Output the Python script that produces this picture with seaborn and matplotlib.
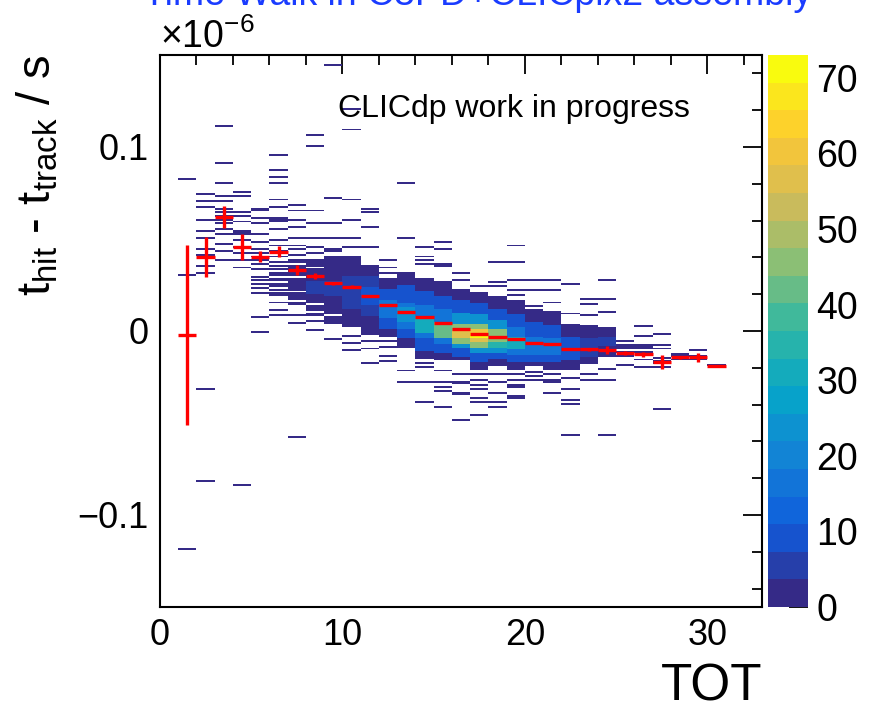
import numpy as np
import pandas as pd
import matplotlib
matplotlib.use("Agg")
import matplotlib.pyplot as plt
import seaborn as sns
from matplotlib.colors import LinearSegmentedColormap, ListedColormap
from matplotlib.ticker import MultipleLocator

# Datos: TOT por bin (borde inferior), dt en ns
tot_bins = list(range(1, 31))

# entradas sueltas (1 cuenta) por columna TOT
sparse_dt = {
    1: [82, 30, -119],
    2: [74, 70, 67, 60, 54, 50, 44, 41, 35, 31, -32, -82],
    3: [111, 91, 80, 73, 70, 66, 64, 62, 60, 58, 55, 52, 47, 43, 38],
    4: [75, 73, 64, 62, 59, 54, 53, 52, 49, 45, 42, 38, 34, -84],
    5: [66, 65, 61, 58, 52, 48, 44, 42, 40, 38, 36, 33, 29, 27, 25, 23, 20, 7, -1],
    6: [95, 87, 83, 80, 71, 67, 61, 60, 59, 55, 49, 46, 43, 40, 37, 35, 33, 31,
        30, 28, 27, 25, 24, 22, 20, 19, 15, 11, 8],
    7: [68, 65, 60, 56, 50, 46, 44, 41, 8, 4, -58],
    8: [106, 100, 65, 58, 50, 45, 42, 5, 0],
    9: [144, 72, 58, 50, -5],
    10: [120, 109, 71, 60, 50, 45, -3, -7, -11],
    11: [66, 64, 56, 45, -6, -10, -18],
    12: [38, 34, 31, -6, -9, -14, -17],
    13: [80, 50, -22, -28],
    14: [45, 40, 38, 36, -18, -20, -28, -39],
    15: [48, 44, 36, 35, -22, -28, -31, -33, -42],
    16: [31, 27, -24, -28, -29, -34, -35, -49],
    17: [24, -24, -27, -30, -32, -37, -39, -46],
    18: [37, 26, 24, -24, -28, -34, -39, -42],
    19: [46, 37, 27, 22, 19, -24, -27, -30, -31, -36, -37],
    20: [27, 22, 13, -23, -25, -27],
    21: [27, 22, 15, -24, -27, -28, -34],
    22: [25, 9, -26, -32, -38, -40, -57],
    23: [17, 14, 8, -24, -27],
    24: [27, 17, 10, -21, -27, -57],
    25: [-6, -8, -9, -10, -12, -14, -19],
    26: [2, -3, -8, -9, -10, -12, -16, -20],
    27: [-2, -8, -10, -15, -17, -18, -20, -43],
    28: [-13, -14, -16],
    29: [-11, -14, -16],
    30: [-19],
}

# nucleo denso: (dt_alto, dt_bajo, cuentas por bin)
core_runs = {
    7: [(38, 37, 1), (35, 30, 2), (28, 22, 2), (20, 17, 1), (15, 14, 1)],
    8: [(38, 35, 1), (33, 27, 2), (26, 20, 4), (19, 15, 2), (13, 11, 1), (9, 8, 1)],
    9: [(44, 43, 1), (40, 37, 1), (36, 32, 2), (31, 27, 3), (26, 19, 5), (18, 14, 3),
        (13, 9, 2), (7, 4, 1)],
    10: [(40, 36, 1), (35, 30, 2), (29, 26, 4), (25, 18, 7), (17, 12, 4), (11, 6, 2),
         (5, 2, 1)],
    11: [(35, 30, 2), (29, 24, 4), (23, 14, 10), (13, 8, 6), (7, 2, 2), (1, -2, 1)],
    12: [(28, 23, 2), (22, 17, 10), (16, 7, 16), (6, 1, 10), (0, -3, 2)],
    13: [(31, 25, 2), (24, 15, 10), (14, 13, 17), (12, 5, 25), (4, 1, 17), (0, -4, 10),
         (-5, -9, 2)],
    14: [(28, 22, 2), (21, 14, 10), (13, 8, 17), (7, -1, 30), (-2, -4, 17),
         (-5, -11, 10), (-12, -15, 2)],
    15: [(26, 19, 2), (18, 12, 10), (11, 5, 17), (4, -4, 42), (-5, -7, 17),
         (-8, -12, 10), (-13, -16, 2)],
    16: [(22, 17, 2), (16, 10, 10), (9, 4, 22), (3, 0, 45), (-1, -4, 58), (-5, -7, 45),
         (-8, -9, 25), (-10, -14, 10), (-15, -16, 2)],
    17: [(20, 15, 2), (14, 9, 10), (8, 4, 25), (3, 1, 45), (0, -1, 62), (-2, -4, 72),
         (-5, -6, 58), (-7, -9, 45), (-10, -12, 25), (-13, -17, 10), (-18, -21, 2)],
    18: [(18, 12, 2), (11, 6, 10), (5, 1, 25), (0, -6, 45), (-7, -9, 35),
         (-10, -12, 25), (-13, -15, 10), (-16, -19, 2)],
    19: [(16, 9, 2), (8, 2, 10), (1, -3, 18), (-4, -10, 30), (-11, -13, 18),
         (-14, -17, 10), (-18, -21, 2)],
    20: [(11, 5, 2), (4, -3, 10), (-4, -13, 18), (-14, -17, 10), (-18, -19, 2)],
    21: [(10, 3, 2), (2, -4, 10), (-5, -13, 15), (-14, -17, 10), (-18, -21, 2)],
    22: [(3, -3, 2), (-4, -16, 9), (-17, -21, 2)],
    23: [(2, -4, 2), (-5, -14, 6), (-15, -18, 2)],
    24: [(1, -3, 2), (-4, -8, 4), (-9, -14, 2)],
}

prof_mean_ns = [-2, 40.2, 62.1, 45.5, 40.4, 43.1, 33.2, 29.9, 25.9, 24.1,
                19.2, 14.1, 10.1, 7.4, 4.2, 1.1, -1.6, -3.3, -4.5, -6.3,
                -7.2, -9.8, -10.0, -10.3, -11.8, -12.7, -16.7, -14.3, -14.3, -18.8]
prof_err_ns = [49, 10.9, 6.1, 7.0, 3.0, 2.9, 2.9, 1.5, 1.0, 0.8,
               0.6, 0.5, 0.4, 0.4, 0.3, 0.3, 0.3, 0.3, 0.3, 0.4,
               0.4, 0.5, 0.6, 2.2, 1.0, 1.5, 3.9, 0.8, 2.3, 0.0]

cbar_ticks = [0, 10, 20, 30, 40, 50, 60, 70]

# Construir tabla de celdas
rows = []
for k in tot_bins:
    for d in sparse_dt.get(k, []):
        rows.append((k + 0.5, (d + 0.5) / 1000.0, 1))
    for hi, lo, n in core_runs.get(k, []):
        for d in range(lo, hi + 1):
            rows.append((k + 0.5, (d + 0.5) / 1000.0, n))
df = pd.DataFrame(rows, columns=["tot", "dt", "n"])

# Paleta tipo ROOT kBird con 20 niveles
bird = LinearSegmentedColormap.from_list("bird", [
    (0.2082, 0.1664, 0.5293), (0.0592, 0.3599, 0.8684), (0.0780, 0.5041, 0.8385),
    (0.0232, 0.6419, 0.7914), (0.1802, 0.7178, 0.6425), (0.5301, 0.7492, 0.4662),
    (0.8186, 0.7328, 0.3499), (0.9956, 0.7862, 0.1968), (0.9764, 0.9832, 0.0539)])
cmap20 = ListedColormap(bird(np.linspace(0, 1, 20)))

sns.set_style("white")
plt.rcParams["font.family"] = ["Liberation Sans", "DejaVu Sans"]
plt.rcParams["mathtext.fontset"] = "custom"
plt.rcParams["mathtext.rm"] = "Liberation Sans"
plt.rcParams["mathtext.it"] = "Liberation Sans"
plt.rcParams["mathtext.default"] = "regular"
for key in ["text.color", "axes.labelcolor", "xtick.color", "ytick.color"]:
    plt.rcParams[key] = "black"

fig = plt.figure(figsize=(8.71, 7.11), dpi=100)
ax = fig.add_axes([160 / 871, 1 - 607 / 711, 602 / 871, 552 / 711])
cax = fig.add_axes([768 / 871, 1 - 607 / 711, 40 / 871, 552 / 711])

x_edges = np.arange(0, 34)
y_edges = np.arange(-150, 151) / 1000.0
sns.histplot(data=df, x="tot", y="dt", weights="n", bins=[x_edges, y_edges],
             cmap=cmap20, vmin=0, vmax=73, cbar=True, cbar_ax=cax, ax=ax)

ax.errorbar(np.array(tot_bins) + 0.5, np.array(prof_mean_ns) / 1000.0,
            xerr=0.5, yerr=np.array(prof_err_ns) / 1000.0,
            fmt="none", ecolor="#ff0000", elinewidth=2.4, capsize=0, zorder=3)

ax.set_xlim(0, 33)
ax.set_ylim(-0.15, 0.15)
ax.xaxis.set_major_locator(MultipleLocator(10))
ax.xaxis.set_minor_locator(MultipleLocator(2))
ax.set_yticks([-0.1, 0, 0.1], labels=["\u22120.1", "0", "0.1"])
ax.yaxis.set_minor_locator(MultipleLocator(0.02))
ax.tick_params(which="both", direction="in", top=True, right=True, width=1.3,
               labelsize=26, color="black", labelcolor="black")
ax.tick_params(which="major", length=14, pad=8)
ax.tick_params(which="minor", length=7)
for sp in ax.spines.values():
    sp.set_linewidth(1.5)
    sp.set_color("black")

ax.set_xlabel("TOT", fontsize=37, loc="right", labelpad=7)
ax.set_ylabel(r"$t_{hit}$ - $t_{track}$ / s", fontsize=34, loc="top")
ax.yaxis.set_label_coords(-0.165, 1.0)

cb = ax.collections[0].colorbar
cb.set_ticks(cbar_ticks)
cb.outline.set_visible(False)
cax.tick_params(direction="in", length=14, width=1.3, labelsize=27, pad=6,
                color="black", labelcolor="black")

fig.text(160 / 871, 1 - 48 / 711, r"$\times10^{-6}$", fontsize=27, va="baseline")
fig.text(338 / 871, 1 - 117 / 711, "CLICdp work in progress", fontsize=23, va="baseline")
fig.text(478 / 871, 1 - 5 / 711, "Time Walk in C3PD+CLICpix2 assembly", fontsize=27,
         color="#1a3cff", ha="center", va="baseline")

fig.savefig("out.png", dpi=100)
